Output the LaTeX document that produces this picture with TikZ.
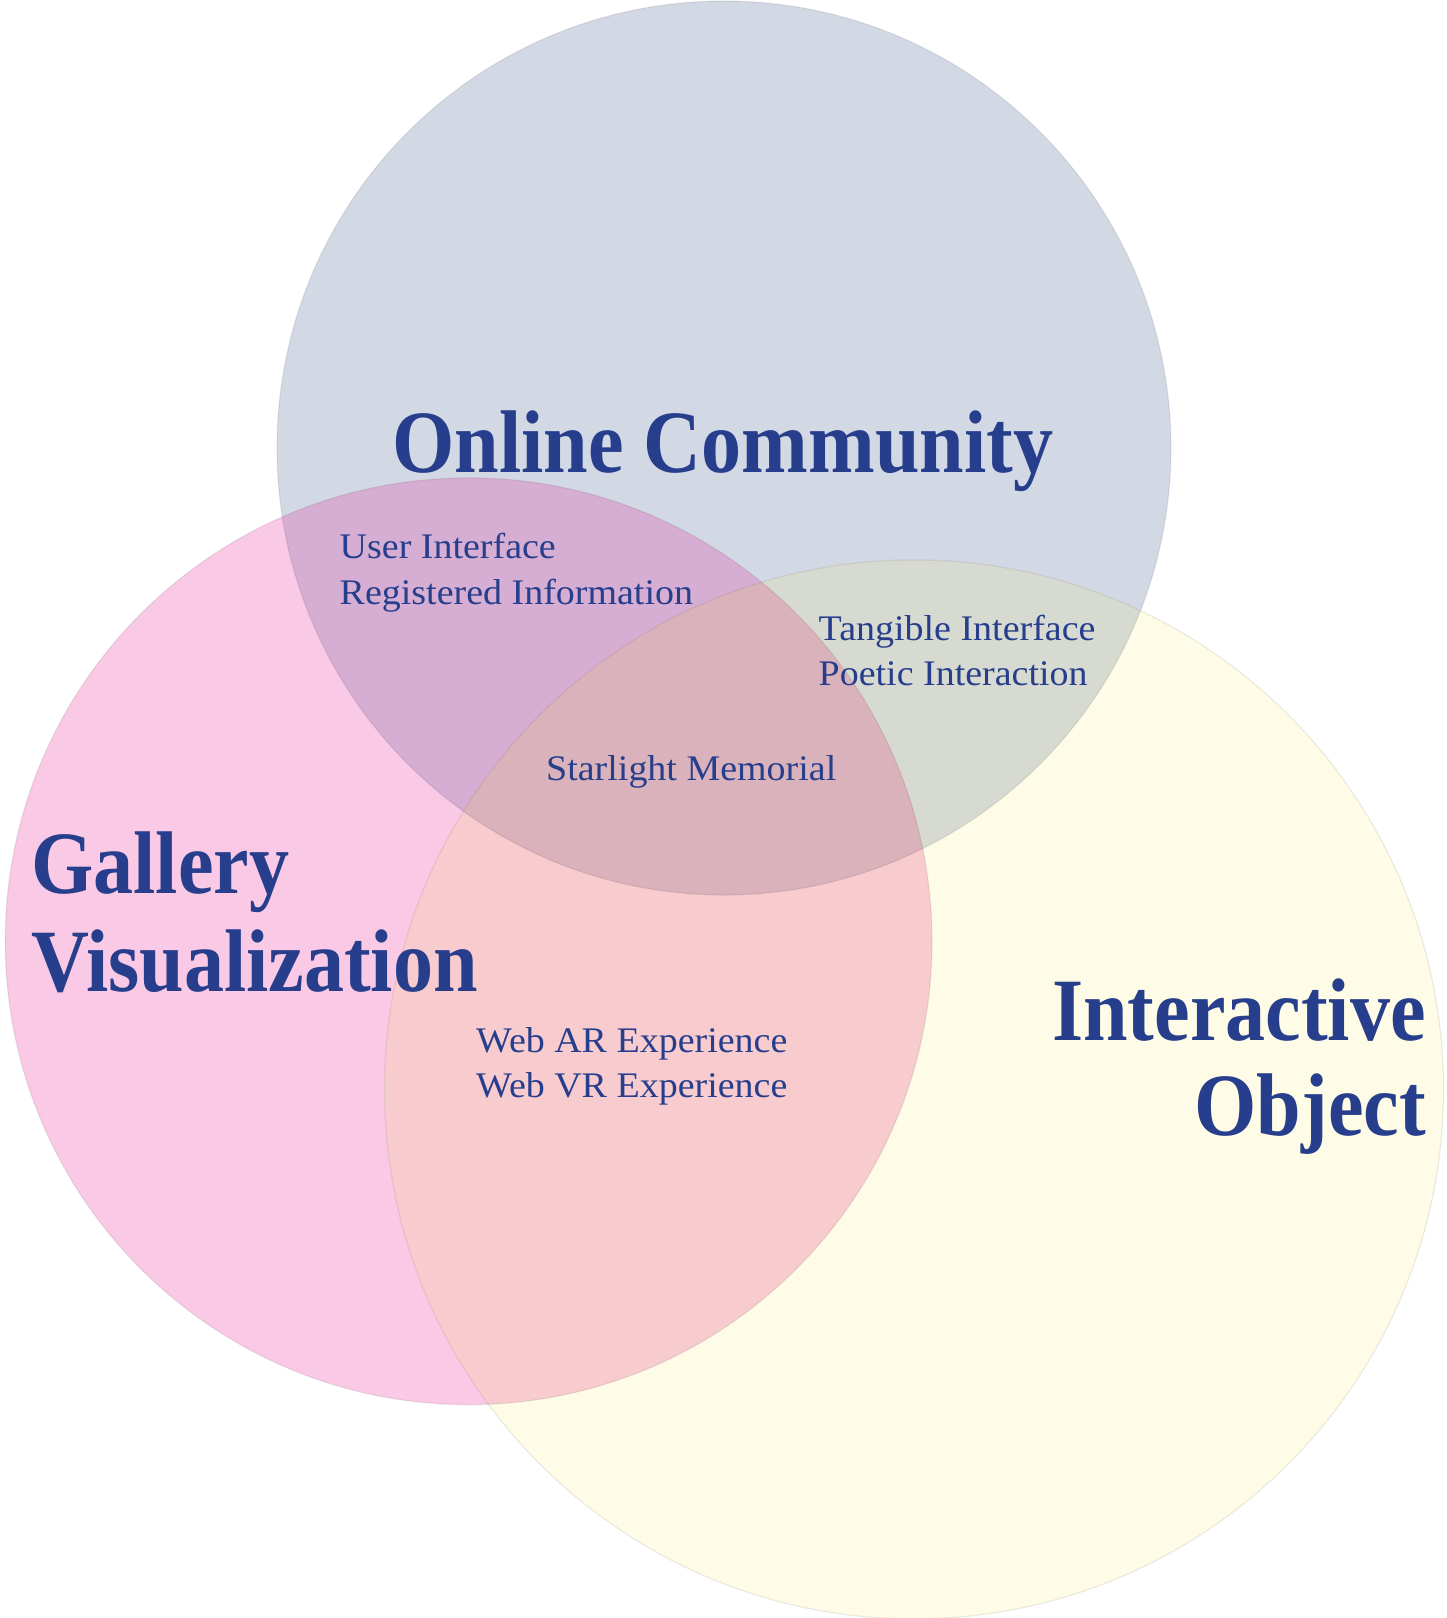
\documentclass[tikz,border=0pt]{standalone}
\usepackage{fontspec}
\setmainfont{Liberation Serif}
\newfontfamily\headfont[FakeStretch=0.9]{Liberation Serif}
\newfontfamily\itemfont[FakeStretch=1.055]{Liberation Serif}
\definecolor{ink}{RGB}{38,62,140}
\definecolor{cblue}{RGB}{211,216,229}
\definecolor{cpink}{RGB}{249,201,229}
\definecolor{cyellow}{RGB}{254,252,231}
\definecolor{cbp}{RGB}{214,173,211}
\definecolor{cby}{RGB}{215,218,208}
\definecolor{cpy}{RGB}{248,203,207}
\definecolor{call}{RGB}{218,178,188}
\begin{document}
\begin{tikzpicture}[x=1pt,y=-1pt,
  heading/.style={text=ink,font=\headfont\bfseries\fontsize{89}{96}\selectfont,inner sep=0pt},
  item/.style={text=ink,font=\itemfont\fontsize{36}{44}\selectfont,inner sep=0pt},
  rim/.style={draw=black,draw opacity=0.08,line width=1.2pt}]
\useasboundingbox (0,0) rectangle (1447,1618);
\def\topc{(724,448) circle[radius=447]}
\def\leftc{(468.6,941.3) circle[radius=463.4]}
\def\rightc{(914,1089.4) circle[radius=529.5]}
% base fills
\fill[cblue] \topc;
\fill[cpink] \leftc;
\fill[cyellow] \rightc;
% pairwise overlaps
\begin{scope}\clip \topc; \fill[cbp] \leftc; \end{scope}
\begin{scope}\clip \topc; \fill[cby] \rightc; \end{scope}
\begin{scope}\clip \leftc; \fill[cpy] \rightc; \end{scope}
\begin{scope}\clip \topc; \clip \leftc; \fill[call] \rightc; \end{scope}
% rims
\draw[rim] \topc;
\draw[rim] \leftc;
\draw[rim] \rightc;
% headings
\node[heading,anchor=base west] (oc) at (392,472) {Online Community};
\node[heading,anchor=base west] (gal) at (31,893) {Gallery};
\node[heading,anchor=base west] (vis) at (31,991) {Visualization};
\node[heading,anchor=base east] (inter) at (1426,1040) {Interactive};
\node[heading,anchor=base east] (obj) at (1426,1135) {Object};
% items
\node[item,anchor=base west] (ui) at (339.5,558) {User Interface};
\node[item,anchor=base west] (ri) at (339.5,604) {Registered Information};
\node[item,anchor=base west] (ti) at (818.5,640) {Tangible Interface};
\node[item,anchor=base west] (pi) at (818.5,685) {Poetic Interaction};
\node[item,anchor=base west] (sm) at (546,780) {Starlight Memorial};
\node[item,anchor=base west] (ar) at (476,1052) {Web AR Experience};
\node[item,anchor=base west] (vr) at (476,1097) {Web VR Experience};
\end{tikzpicture}
\end{document}
